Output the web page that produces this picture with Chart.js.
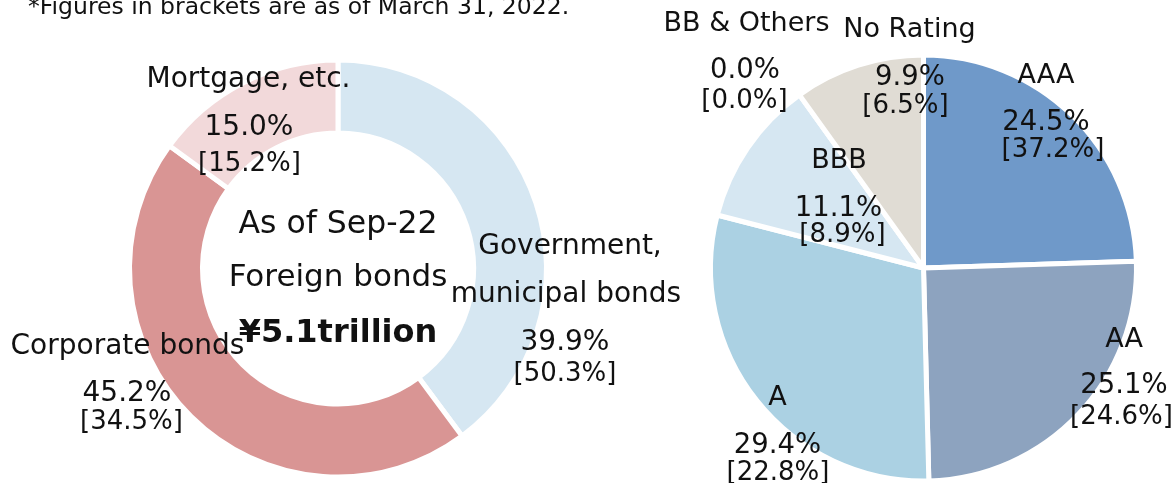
<!DOCTYPE html>
<html>
<head>
<meta charset="utf-8">
<script src="https://cdn.jsdelivr.net/npm/chart.js@4/dist/chart.umd.min.js"></script>
<style>
    html, body { margin: 0; padding: 0; background: #fff; overflow: hidden; }
    #wrap { position: relative; width: 1173px; height: 483px; overflow: hidden; }
    canvas { position: absolute; top: 0; }
    #foreign-chart { left: 0; }
    #rating-chart { left: 600px; }
</style>
</head>
<body>
<div id="wrap">
    <canvas id="foreign-chart" width="700" height="483"></canvas>
    <canvas id="rating-chart" width="573" height="500"></canvas>
</div>
<script>
// --- data: foreign bonds by type (current, [previous]) ---
const typeNames = [['Government,', 'municipal bonds'], ['Corporate bonds'], ['Mortgage, etc.']];
const typeShare = [39.9, 45.2, 15.0];
const typeSharePrev = [50.3, 34.5, 15.2];
const typeColors = ['#d6e7f2', '#d99594', '#f2d9da'];

// --- data: foreign bonds by rating ---
const ratingNames = [['AAA'], ['AA'], ['A'], ['BBB'], ['BB & Others'], ['No Rating']];
const ratingShare = [24.5, 25.1, 29.4, 11.1, 0.0, 9.9];
const ratingSharePrev = [37.2, 24.6, 22.8, 8.9, 0.0, 6.5];
const ratingColors = ['#6f99c9', '#8da3bf', '#abd1e3', '#d6e7f2', '#c9c9c9', '#e0dcd4'];

const centerLines = ['As of Sep-22', 'Foreign bonds', '¥5.1trillion'];
const footNote = '*Figures in brackets are as of March 31, 2022.';

const FONT = '"DejaVu Sans", Verdana, sans-serif';
const INK = '#111';

// label anchors, offsets from the pie centre: name lines, value, [prev]
const typeLabelPos = [
    { name: [[232, -14.5], [228, 33.5]], val: [227, 81.5], prev: [227, 112.5] },
    { name: [[-210.5, 85.5]], val: [-211, 132], prev: [-206.5, 160.5] },
    { name: [[-89.5, -181.5]], val: [-89, -133.5], prev: [-88.5, -98] },
];
const ratingLabelPos = [
    { name: [[122.5, -185.3]], val: [122.5, -138], prev: [129.5, -111] },
    { name: [[200.5, 78.7]], val: [200.5, 124.7], prev: [198, 156] },
    { name: [[-146, 137]], val: [-146, 185], prev: [-145.5, 212] },
    { name: [[-84.5, -99.7]], val: [-85, -52], prev: [-81, -26.3] },
    { name: [[-177, -237.3]], val: [-178.5, -189.7], prev: [-179, -160] },
    { name: [[-14, -230.7]], val: [-13.5, -183], prev: [-18, -155.3] },
];

function pct(v) {
    return `${v.toFixed(1)}%`;
}

function text(ctx, str, x, y, font, align) {
    ctx.font = font;
    ctx.textAlign = align || 'center';
    ctx.fillText(str, x, y);
}

function sliceLabels(names, share, prev, pos, sizes) {
    return {
        id: 'sliceLabels',
        afterDraw(chart) {
            const arc = chart.getDatasetMeta(0).data[0];
            if (!arc) return;
            const cx = arc.x, cy = arc.y;
            const ctx = chart.ctx;
            ctx.save();
            ctx.fillStyle = INK;
            ctx.textBaseline = 'alphabetic';
            names.forEach((lines, i) => {
                const p = pos[i];
                lines.forEach((ln, j) => {
                    text(ctx, ln, cx + p.name[j][0], cy + p.name[j][1], `${sizes.name}px ${FONT}`);
                });
                text(ctx, pct(share[i]), cx + p.val[0], cy + p.val[1], `${sizes.val}px ${FONT}`);
                text(ctx, `[${pct(prev[i])}]`, cx + p.prev[0], cy + p.prev[1], `${sizes.prev}px ${FONT}`);
            });
            ctx.restore();
        },
    };
}

const centerText = {
    id: 'centerText',
    afterDraw(chart) {
        const arc = chart.getDatasetMeta(0).data[0];
        if (!arc) return;
        const ctx = chart.ctx;
        ctx.save();
        ctx.fillStyle = INK;
        ctx.textBaseline = 'alphabetic';
        text(ctx, centerLines[0], arc.x, arc.y - 35.5, `31.5px ${FONT}`);
        text(ctx, centerLines[1], arc.x, arc.y + 17.5, `31px ${FONT}`);
        text(ctx, centerLines[2], arc.x, arc.y + 73, `bold 32px ${FONT}`);
        text(ctx, footNote, 28, 14, `23.5px ${FONT}`, 'left');
        ctx.restore();
    },
};

const common = {
    responsive: false,
    animation: false,
    events: [],
    plugins: { legend: { display: false }, tooltip: { enabled: false } },
};

new Chart(document.getElementById('foreign-chart').getContext('2d'), {
    type: 'doughnut',
    data: {
        labels: typeNames.map((n) => n.join(' ')),
        datasets: [{
            data: typeShare,
            backgroundColor: typeColors,
            borderColor: '#fff',
            borderWidth: 5,
        }],
    },
    options: {
        ...common,
        cutout: '65%',
        layout: { padding: { left: 127, right: 151, top: 57.5, bottom: 3.5 } },
    },
    plugins: [centerText, sliceLabels(typeNames, typeShare, typeSharePrev, typeLabelPos, { name: 28, val: 28, prev: 26 })],
});

new Chart(document.getElementById('rating-chart').getContext('2d'), {
    type: 'pie',
    data: {
        labels: ratingNames.map((n) => n.join(' ')),
        datasets: [{
            data: ratingShare,
            backgroundColor: ratingColors,
            borderColor: '#fff',
            borderWidth: 5,
        }],
    },
    options: {
        ...common,
        layout: { padding: { left: 108, right: 34, top: 52.5, bottom: 16.5 } },
    },
    plugins: [sliceLabels(ratingNames, ratingShare, ratingSharePrev, ratingLabelPos, { name: 27, val: 27.5, prev: 26 })],
});
</script>
</body>
</html>
